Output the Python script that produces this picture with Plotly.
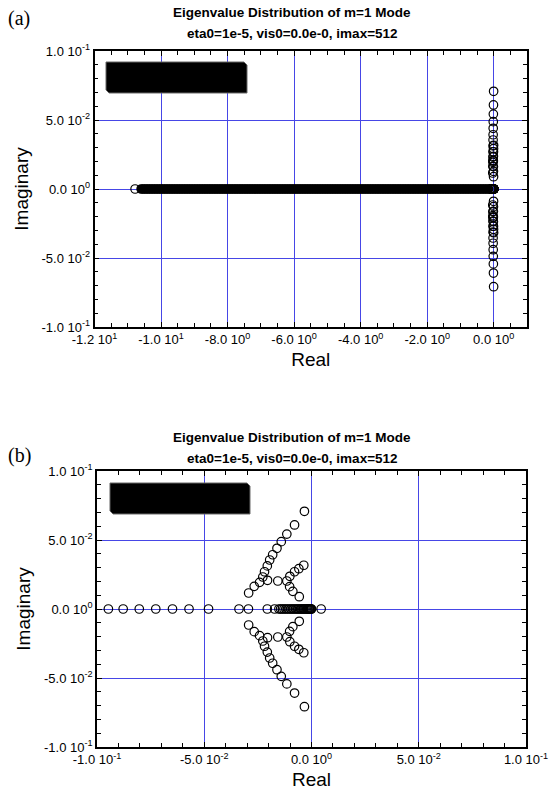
import plotly.graph_objects as go

# ---------------- data ----------------
# isolated eigenvalues on the real axis (imag = 0)
real_axis_eigs = [
    -10.78,
    -0.0947, -0.0878, -0.0803, -0.0726, -0.0648, -0.0571, -0.0480,
    -0.0338, -0.0294, -0.0206, -0.0172, -0.0152, -0.0144, -0.0136, -0.0128,
    -0.0120, -0.0112, -0.0104, -0.0096, -0.0089, -0.0082, -0.0075, -0.0068, -0.0062,
    -0.0056, -0.0050, -0.0045, -0.0040, -0.0035, -0.0030, -0.0025, -0.0021,
    -0.0017, -0.0013, -0.0010, -0.0007, -0.0004, -0.0002, 0.0, 0.0045,
]

# densely packed real eigenvalues (they merge into a solid band in panel a)
real_axis_dense = [
    -10.60, -10.55, -10.50, -10.45, -10.40, -10.35, -10.30, -10.25, -10.20, -10.15, -10.10, -10.05,
    -10.00, -9.95, -9.90, -9.85, -9.80, -9.75, -9.70, -9.65, -9.60, -9.55, -9.50, -9.45,
    -9.40, -9.35, -9.30, -9.25, -9.20, -9.15, -9.10, -9.05,
    -9.00, -8.95, -8.90, -8.85, -8.80, -8.75, -8.70, -8.65, -8.60, -8.55, -8.50, -8.45,
    -8.40, -8.35, -8.30, -8.25, -8.20, -8.15, -8.10, -8.05,
    -8.00, -7.95, -7.90, -7.85, -7.80, -7.75, -7.70, -7.65, -7.60, -7.55, -7.50, -7.45,
    -7.40, -7.35, -7.30, -7.25, -7.20, -7.15, -7.10, -7.05,
    -7.00, -6.95, -6.90, -6.85, -6.80, -6.75, -6.70, -6.65, -6.60, -6.55, -6.50, -6.45,
    -6.40, -6.35, -6.30, -6.25, -6.20, -6.15, -6.10, -6.05,
    -6.00, -5.95, -5.90, -5.85, -5.80, -5.75, -5.70, -5.65, -5.60, -5.55, -5.50, -5.45,
    -5.40, -5.35, -5.30, -5.25, -5.20, -5.15, -5.10, -5.05,
    -5.00, -4.95, -4.90, -4.85, -4.80, -4.75, -4.70, -4.65, -4.60, -4.55, -4.50, -4.45,
    -4.40, -4.35, -4.30, -4.25, -4.20, -4.15, -4.10, -4.05,
    -4.00, -3.95, -3.90, -3.85, -3.80, -3.75, -3.70, -3.65, -3.60, -3.55, -3.50, -3.45,
    -3.40, -3.35, -3.30, -3.25, -3.20, -3.15, -3.10, -3.05,
    -3.00, -2.95, -2.90, -2.85, -2.80, -2.75, -2.70, -2.65, -2.60, -2.55, -2.50, -2.45,
    -2.40, -2.35, -2.30, -2.25, -2.20, -2.15, -2.10, -2.05,
    -2.00, -1.95, -1.90, -1.85, -1.80, -1.75, -1.70, -1.65, -1.60, -1.55, -1.50, -1.45,
    -1.40, -1.35, -1.30, -1.25, -1.20, -1.15, -1.10, -1.05,
    -1.00, -0.95, -0.90, -0.85, -0.80, -0.75, -0.70, -0.65, -0.60, -0.55, -0.50, -0.45,
    -0.40, -0.35, -0.30, -0.25, -0.20, -0.15,
]

# complex eigenvalues: real parts and imaginary parts (upper and lower halves)
cplx_re = [
    -0.0033, -0.0079, -0.0115, -0.0141, -0.0161, -0.0181, -0.0195,
    -0.0206, -0.0219, -0.0227, -0.0242, -0.0267, -0.0293, -0.0205,
    -0.0157, -0.0036, -0.0059, -0.0079, -0.0101, -0.0115, -0.0102,
    -0.0087, -0.0057,
]
cplx_im_up = [
    0.0708, 0.0609, 0.0543, 0.0488, 0.0440, 0.0393, 0.0355,
    0.0312, 0.0270, 0.0232, 0.0193, 0.0164, 0.0116, 0.0208,
    0.0203, 0.0317, 0.0292, 0.0270, 0.0237, 0.0203, 0.0162,
    0.0128, 0.0089,
]
cplx_im_dn = [
    -0.0708, -0.0609, -0.0543, -0.0488, -0.0440, -0.0393, -0.0355,
    -0.0312, -0.0270, -0.0232, -0.0193, -0.0164, -0.0116, -0.0208,
    -0.0203, -0.0317, -0.0292, -0.0270, -0.0237, -0.0203, -0.0162,
    -0.0128, -0.0089,
]

# tick labels
a_xtickvals = [-12, -10, -8, -6, -4, -2, 0]
a_xticktext = ["-1.2 10<sup>1</sup>", "-1.0 10<sup>1</sup>", "-8.0 10<sup>0</sup>",
               "-6.0 10<sup>0</sup>", "-4.0 10<sup>0</sup>", "-2.0 10<sup>0</sup>",
               "0.0 10<sup>0</sup>"]
b_xtickvals = [-0.1, -0.05, 0, 0.05, 0.1]
b_xticktext = ["-1.0 10<sup>-1</sup>", "-5.0 10<sup>-2</sup>", "0.0 10<sup>0</sup>",
               "5.0 10<sup>-2</sup>", "1.0 10<sup>-1</sup>"]
ytickvals = [-0.1, -0.05, 0, 0.05, 0.1]
yticktext = ["-1.0 10<sup>-1</sup>", "-5.0 10<sup>-2</sup>", "0.0 10<sup>0</sup>",
             "5.0 10<sup>-2</sup>", "1.0 10<sup>-1</sup>"]

title_line1 = "Eigenvalue Distribution of m=1 Mode"
title_line2 = "eta0=1e-5, vis0=0.0e-0, imax=512"

# ---------------- figure ----------------
W, H = 549, 795
FONT = "Liberation Sans, Arial, sans-serif"
GRID = "#4646e6"

def px(x):
    return x / W

def py(y):
    return 1 - y / H

marker = dict(symbol="circle-open", size=8.5, color="black", line=dict(width=1.2))
dense_marker = dict(symbol="circle-open", size=7.2, color="black", line=dict(width=2.4))

fig = go.Figure()
for xa, ya in (("x", "y"), ("x2", "y2")):
    fig.add_trace(go.Scatter(x=real_axis_dense, y=[0.0] * len(real_axis_dense),
                             mode="markers", marker=dense_marker, xaxis=xa, yaxis=ya,
                             showlegend=False))
    fig.add_trace(go.Scatter(x=real_axis_eigs, y=[0.0] * len(real_axis_eigs),
                             mode="markers", marker=marker, xaxis=xa, yaxis=ya,
                             showlegend=False))
    fig.add_trace(go.Scatter(x=cplx_re, y=cplx_im_up, mode="markers", marker=marker,
                             xaxis=xa, yaxis=ya, showlegend=False))
    fig.add_trace(go.Scatter(x=cplx_re, y=cplx_im_dn, mode="markers", marker=marker,
                             xaxis=xa, yaxis=ya, showlegend=False))

common = dict(showgrid=True, gridcolor=GRID, gridwidth=1.4, zeroline=False,
              showline=True, linecolor="black", linewidth=1.6, mirror="allticks",
              ticks="inside", ticklen=5, tickcolor="black", tickwidth=1,
              tickfont=dict(family=FONT, size=13, color="black"),
              tickmode="array", automargin=False)

def minor(d):
    return dict(ticks="inside", ticklen=4, tickcolor="black", tick0=0, dtick=d, showgrid=False)

fig.update_layout(
    width=W, height=H, margin=dict(l=0, r=0, t=0, b=0),
    paper_bgcolor="white", plot_bgcolor="white",
    font=dict(family=FONT, color="black"),
    xaxis=dict(common, domain=[px(94.5), px(527)], range=[-12, 1], anchor="y",
               tickvals=a_xtickvals, ticktext=a_xticktext, minor=minor(0.5),
               title=dict(text="Real", font=dict(family=FONT, size=19), standoff=6)),
    yaxis=dict(common, domain=[py(327), py(51)], range=[-0.1, 0.1], anchor="x",
               tickvals=ytickvals, ticktext=yticktext, minor=minor(0.01),
               title=dict(text="Imaginary", font=dict(family=FONT, size=19), standoff=8)),
    xaxis2=dict(common, domain=[px(97), px(526)], range=[-0.1, 0.1], anchor="y2",
                tickvals=b_xtickvals, ticktext=b_xticktext, minor=minor(0.01),
                title=dict(text="Real", font=dict(family=FONT, size=19), standoff=6)),
    yaxis2=dict(common, domain=[py(747), py(471)], range=[-0.1, 0.1], anchor="x2",
                tickvals=ytickvals, ticktext=yticktext, minor=minor(0.01),
                title=dict(text="Imaginary", font=dict(family=FONT, size=19), standoff=8)),
)

# blacked-out legend boxes (chamfered top-right and bottom-left corners)
def box(l, t, r, b, c=3):
    pts = [(l, t), (r - c, t), (r, t + c), (r, b), (l + c, b), (l, b - c)]
    path = "M " + " L ".join(f"{px(x):.5f},{py(y):.5f}" for x, y in pts) + " Z"
    fig.add_shape(type="path", path=path, xref="paper", yref="paper",
                  fillcolor="black", line=dict(color="#666666", width=1), layer="above")

box(106, 62, 247, 93)
box(110, 483, 250, 514)

# titles and panel labels
for cx, y1, y2 in ((292, 13, 34), (292, 437, 458)):
    fig.add_annotation(x=px(cx), y=py(y1), xref="paper", yref="paper", text=f"<b>{title_line1}</b>",
                       showarrow=False, font=dict(family=FONT, size=13.5), xanchor="center", yanchor="middle")
    fig.add_annotation(x=px(cx), y=py(y2), xref="paper", yref="paper", text=f"<b>{title_line2}</b>",
                       showarrow=False, font=dict(family=FONT, size=13.5), xanchor="center", yanchor="middle")

fig.add_annotation(x=px(6), y=py(19), xref="paper", yref="paper", text="(a)", showarrow=False,
                   font=dict(family="Liberation Serif, Times New Roman, serif", size=20),
                   xanchor="left", yanchor="middle")
fig.add_annotation(x=px(6), y=py(455), xref="paper", yref="paper", text="(b)", showarrow=False,
                   font=dict(family="Liberation Serif, Times New Roman, serif", size=20),
                   xanchor="left", yanchor="middle")

fig.write_html("out.html")
